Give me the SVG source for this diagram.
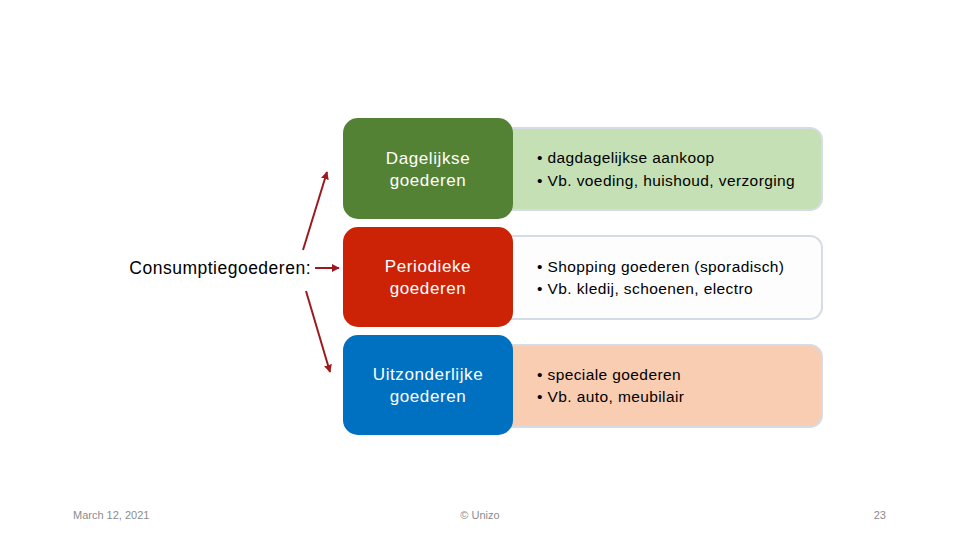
<svg xmlns="http://www.w3.org/2000/svg" width="960" height="540" viewBox="0 0 960 540">
<defs>
<style>
.lbl{font-family:"Liberation Sans","Open Sans",sans-serif;font-size:17px;letter-spacing:0.6px;fill:#ffffff;text-anchor:middle}
.txt{font-family:"Liberation Sans","Open Sans",sans-serif;font-size:15.5px;letter-spacing:0.4px;fill:#000000}
.foot{font-family:"Liberation Sans","Open Sans",sans-serif;font-size:11px;fill:#8c8c8c}
.info{stroke:#d5dce6;stroke-width:2}
.arr{stroke:#9b1a1f;stroke-width:2;fill:none;marker-end:url(#ah)}
</style>
<marker id="ah" viewBox="0 0 10 10" refX="9" refY="5" markerWidth="4" markerHeight="4" orient="auto">
<path d="M0,0 L10,5 L0,10 z" fill="#9b1a1f"/>
</marker>
</defs>
<rect width="960" height="540" fill="#ffffff"/>
<g id="root-label">
<text x="311" y="274" font-family="Liberation Sans, Open Sans, sans-serif" font-size="17.5" letter-spacing="0.5" fill="#000" text-anchor="end">Consumptiegoederen:</text>
</g>
<g id="connectors">
<line class="arr" x1="303" y1="250" x2="327" y2="172"/>
<line class="arr" x1="315" y1="268" x2="339" y2="268"/>
<line class="arr" x1="306" y1="291" x2="330" y2="372"/>
</g>
<g id="info-dagelijks">
<rect class="info" x="490" y="128" width="332" height="82" rx="12" fill="#c5e0b4"/>
<text class="txt" x="537" y="163">• dagdagelijkse aankoop</text>
<text class="txt" x="537" y="186">• Vb. voeding, huishoud, verzorging</text>
</g>
<g id="info-periodiek">
<rect class="info" x="490" y="236" width="332" height="83" rx="12" fill="#fdfdfe"/>
<text class="txt" x="537" y="272">• Shopping goederen (sporadisch)</text>
<text class="txt" x="537" y="294">• Vb. kledij, schoenen, electro</text>
</g>
<g id="info-uitzonderlijk">
<rect class="info" x="490" y="345" width="332" height="82" rx="12" fill="#f8cdb1"/>
<text class="txt" x="537" y="380">• speciale goederen</text>
<text class="txt" x="537" y="402">• Vb. auto, meubilair</text>
</g>
<g id="dagelijkse">
<rect x="343" y="118" width="170" height="101" rx="15" fill="#548235"/>
<text class="lbl" x="428" y="164">Dagelijkse</text>
<text class="lbl" x="428" y="186">goederen</text>
</g>
<g id="periodieke">
<rect x="343" y="227" width="170" height="100" rx="15" fill="#cc2306"/>
<text class="lbl" x="428" y="272">Periodieke</text>
<text class="lbl" x="428" y="294">goederen</text>
</g>
<g id="uitzonderlijke">
<rect x="343" y="335" width="170" height="100" rx="15" fill="#0070c0"/>
<text class="lbl" x="428" y="380">Uitzonderlijke</text>
<text class="lbl" x="428" y="402">goederen</text>
</g>
<g id="footer">
<text class="foot" x="73" y="519">March 12, 2021</text>
<text class="foot" x="480" y="519" text-anchor="middle">© Unizo</text>
<text class="foot" x="886" y="519" text-anchor="end">23</text>
</g>
</svg>
